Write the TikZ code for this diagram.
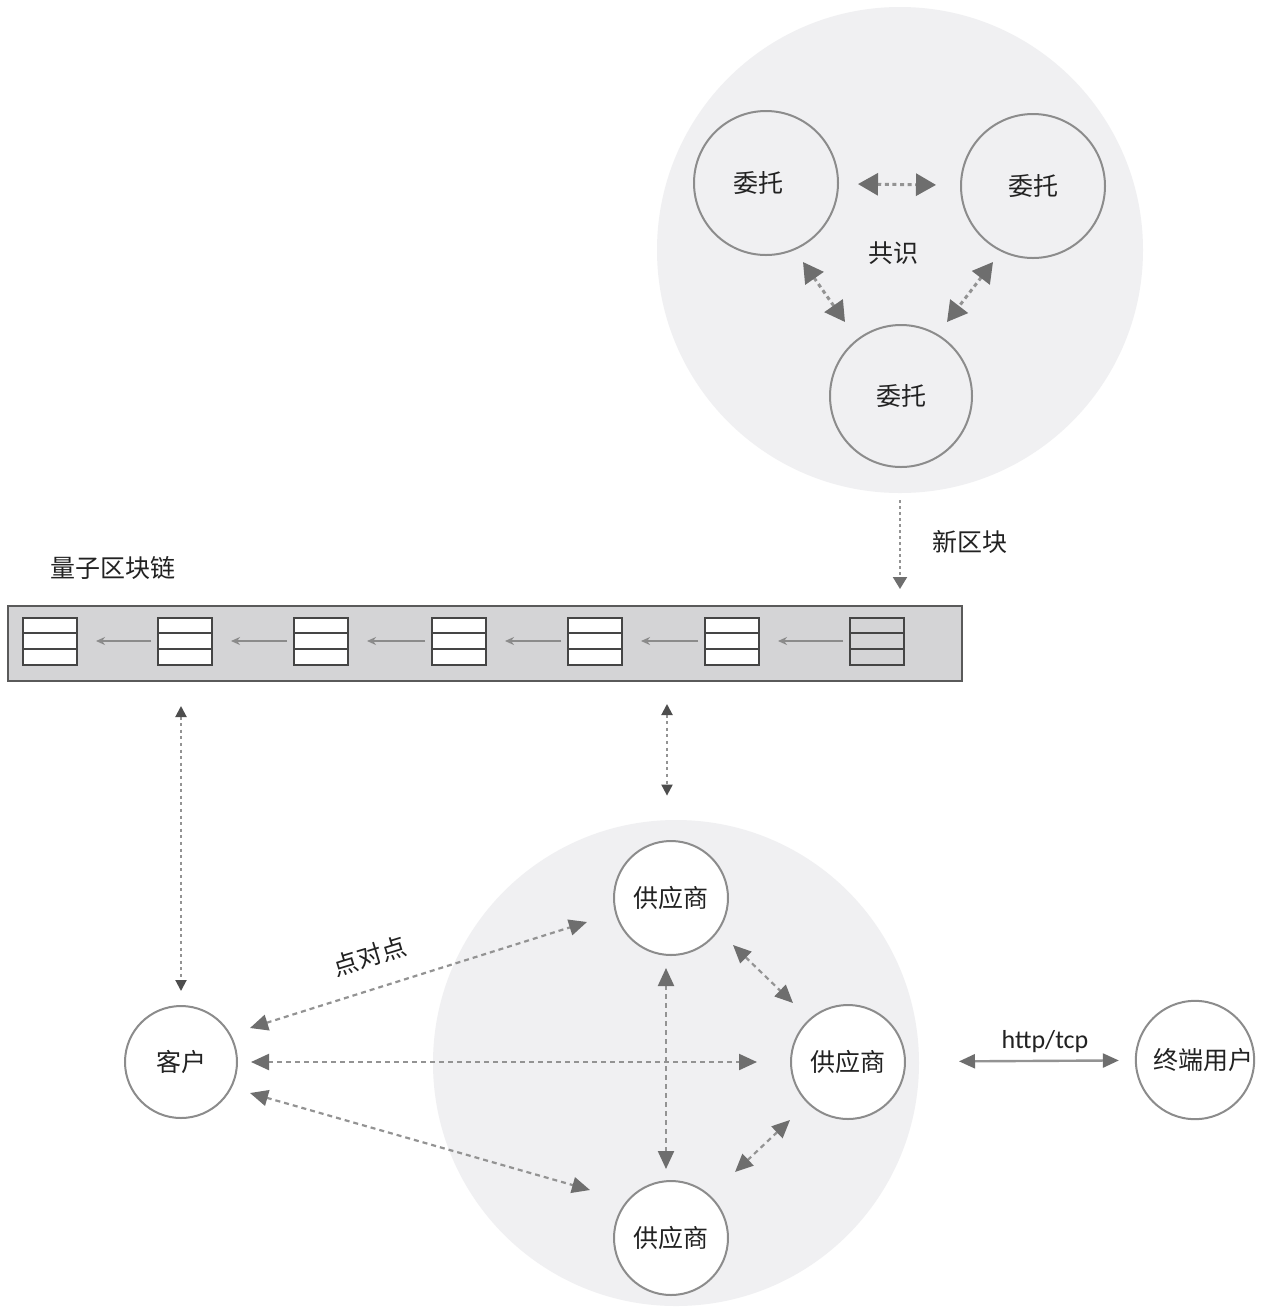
\documentclass[tikz,border=0pt]{standalone}
\usepackage{fontspec}
\setmainfont{Noto Sans CJK SC}
\newfontfamily\latinfont{Carlito}
\usetikzlibrary{arrows.meta,calc}

\definecolor{zone}{HTML}{F0F0F2}
\definecolor{ringline}{HTML}{8C8C8C}
\definecolor{barfill}{HTML}{D4D4D6}
\definecolor{barline}{HTML}{5A5A5A}
\definecolor{blockline}{HTML}{454545}
\definecolor{linkline}{HTML}{939393}
\definecolor{tipcol}{HTML}{6E6E6E}
\definecolor{inkcol}{HTML}{222222}

\tikzset{
  every node/.style={text=inkcol, font=\fontsize{12.5}{15}\selectfont},
  zonecircle/.style={circle, fill=zone, minimum size=243pt, inner sep=0pt},
  peer/.style={circle, draw=ringline, line width=1pt, minimum size=#1, inner sep=0pt},
  peer/.default=57pt,
  whitepeer/.style={peer=#1, fill=white},
  whitepeer/.default=57pt,
  chainbar/.style={rectangle, draw=barline, fill=barfill, line width=1pt,
    minimum width=477pt, minimum height=37.5pt, inner sep=0pt},
  block/.style={rectangle, draw=blockline, line width=1pt, fill=#1,
    minimum width=27pt, minimum height=23.5pt, inner sep=0pt,
    path picture={
      \draw[blockline, line width=1pt]
        ($(path picture bounding box.north west)!1/3!(path picture bounding box.south west)$) --
        ($(path picture bounding box.north east)!1/3!(path picture bounding box.south east)$)
        ($(path picture bounding box.north west)!2/3!(path picture bounding box.south west)$) --
        ($(path picture bounding box.north east)!2/3!(path picture bounding box.south east)$);
    }},
  block/.default=white,
  link/.style={draw=tipcol!80, line width=0.8pt, -{Stealth[length=4.5pt,width=4pt]}},
  consensus/.style={draw=linkline, line width=1.5pt, dash pattern=on 2pt off 1.8pt,
    {Triangle[length=10pt,width=11pt,color=tipcol]}-{Triangle[length=10pt,width=11pt,color=tipcol]}},
  feed/.style={draw=linkline, line width=1pt, dash pattern=on 1.5pt off 1.5pt,
    -{Triangle[length=6pt,width=7pt,color=tipcol]}},
  sync/.style={draw=linkline, line width=1pt, dash pattern=on 1.5pt off 1.8pt,
    {Triangle[length=5.5pt,width=5.5pt,color=tipcol!70!black]}-{Triangle[length=5.5pt,width=5.5pt,color=tipcol!70!black]}},
  p2p/.style={draw=linkline, line width=1.1pt, dash pattern=on 2.5pt off 2pt,
    {Triangle[length=9pt,width=8pt,color=tipcol]}-{Triangle[length=9pt,width=8pt,color=tipcol]}},
  web/.style={draw=linkline, line width=1.2pt,
    {Triangle[length=8pt,width=7pt,color=tipcol]}-{Triangle[length=8pt,width=7pt,color=tipcol]}},
}

\begin{document}
\begin{tikzpicture}[x=0.5pt,y=-0.5pt]
  \fill[white] (0,0) rectangle (1272,1308);
  \useasboundingbox (0,0) rectangle (1272,1308);

  % consensus group of delegates
  \node[zonecircle] (top) at (900,250) {};
  \node[peer=72pt] (d1) at (766,183) {委托\hspace*{8pt}};
  \node[peer=72pt] (d2) at (1033,186) {委托};
  \node[peer=71pt] (d3) at (901,396) {委托};
  \node (consensus) at (893,253) {共识};

  \draw[consensus, shorten <=9.5pt, shorten >=12pt] (d1) -- (d2);
  \draw[consensus] ($(d1)+(37,79)$) -- ($(d3)+(-56,-74)$);
  \draw[consensus] ($(d2)+(-40,76)$) -- ($(d3)+(46,-74)$);

  % the quantum blockchain
  \node (chainlabel) at (113,568) {量子区块链};
  \node[chainbar] (chain) at (485,643.5) {};
  \node[block] (b1) at (50,641) {};
  \node[block] (b2) at (185,641) {};
  \node[block] (b3) at (321,641) {};
  \node[block] (b4) at (459,641) {};
  \node[block] (b5) at (595,641) {};
  \node[block] (b6) at (732,641) {};
  \node[block=barfill] (b7) at (877,641) {};
  \foreach \a/\b in {b2/b1,b3/b2,b4/b3,b5/b4,b6/b5,b7/b6}
    \draw[link, shorten <=3pt, shorten >=9pt] (\a.west) -- (\b.east);

  % new block handed to the chain
  \draw[feed, shorten <=3.5pt, shorten >=8pt] (top.south) -- (top.south |- chain.north);
  \node (newblock) at (970,542) {新区块};

  % provider network
  \node[zonecircle] (bot) at (676,1063) {};
  \node[whitepeer] (s1) at (671,898) {供应商};
  \node[whitepeer] (s2) at (848,1062) {供应商};
  \node[whitepeer] (s3) at (671,1238) {供应商};
  \node[whitepeer=56pt] (c) at (181,1062) {客户};
  \node[whitepeer] (e) at (1195,1060) {\hspace*{8pt}终端用户};

  % links between the chain and its users
  \draw[sync, shorten <=12pt, shorten >=7pt] (c.north |- chain.south) -- (c.north);
  \draw[sync, shorten <=11pt, shorten >=12pt] (chain.south -| 667,0) -- (bot.north -| 667,0);

  % peer-to-peer links
  \draw[p2p] ($(c)+(69,-34)$) -- ($(s1)+(-84,24)$);
  \draw[p2p, shorten <=6.5pt, shorten >=16.5pt] (c) -- (s2);
  \draw[p2p] ($(c)+(69,31)$) -- ($(s3)+(-81,-48)$);
  \draw[p2p, transform canvas={xshift=-2.5pt}, shorten <=6pt, shorten >=5.5pt] (s1) -- (s3);
  \draw[p2p] ($(s1)+(62,47)$) -- ($(s2)+(-55,-59)$);
  \draw[p2p] ($(s2)+(-58,58)$) -- ($(s3)+(64,-66)$);
  \node[rotate=17] (p2plabel) at (370,956) {点对点};

  % end user access
  \draw[web, shorten <=26.5pt, shorten >=8pt] (s2) -- (e);
  \node[font=\latinfont\fontsize{13}{15}\selectfont] (proto) at (1045,1042) {http/tcp};
\end{tikzpicture}
\end{document}
